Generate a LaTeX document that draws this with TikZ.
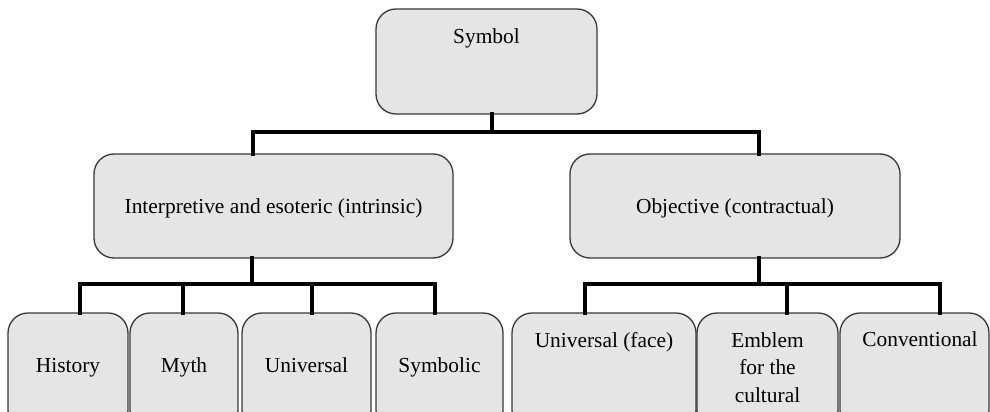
\documentclass[tikz,border=0pt]{standalone}
\usepackage{fontspec}
\setmainfont{Liberation Serif}
\begin{document}
\begin{tikzpicture}[x=1pt,y=-1pt,
  box/.style={draw=black!78, line width=1.3pt, fill=black!10, rounded corners=20pt, rectangle, inner sep=0pt},
  lbl/.style={inner sep=0pt, anchor=base, font=\fontsize{21.4}{27.5}\selectfont},
  conn/.style={line width=4.5pt, line join=miter, line cap=rect}]
\clip (0,0) rectangle (990,412);
\fill[white] (0,0) rectangle (990,412);
% junction coordinates
\coordinate (j1M) at (492,132);
\coordinate (j1L) at (253,132);
\coordinate (j1R) at (759,132);
\coordinate (j2M) at (252,284);
\coordinate (j2L) at (80,284);
\coordinate (j2R) at (435,284);
\coordinate (j3M) at (759,284);
\coordinate (j3L) at (585,284);
\coordinate (j3R) at (940,284);
% boxes
\node[box, minimum width=221pt, minimum height=105pt] (sym) at (486.5,61.5) {};
\node[box, minimum width=359pt, minimum height=104pt] (interp) at (273.5,206) {};
\node[box, minimum width=330pt, minimum height=104pt] (obj) at (735,206) {};
\node[box, minimum width=120pt, minimum height=117pt] (hist) at (68,371.5) {};
\node[box, minimum width=108pt, minimum height=117pt] (myth) at (184,371.5) {};
\node[box, minimum width=129pt, minimum height=117pt] (univ) at (306.5,371.5) {};
\node[box, minimum width=127pt, minimum height=117pt] (symb) at (439.5,371.5) {};
\node[box, minimum width=184pt, minimum height=117pt] (uface) at (604,371.5) {};
\node[box, minimum width=141pt, minimum height=117pt] (embl) at (767.5,371.5) {};
\node[box, minimum width=149pt, minimum height=117pt] (conv) at (914.5,371.5) {};
% connectors
\draw[conn] (sym.south -| j1M) -- (j1M);
\draw[conn] (interp.north -| j1L) -- (j1L) -- (j1R) -- (obj.north -| j1R);
\draw[conn] (interp.south -| j2M) -- (j2M);
\draw[conn] (hist.north -| j2L) -- (j2L) -- (j2R) -- (symb.north -| j2R);
\draw[conn] (myth.north -| 183,284) -- (183,284);
\draw[conn] (univ.north -| 312,284) -- (312,284);
\draw[conn] (obj.south -| j3M) -- (j3M);
\draw[conn] (uface.north -| j3L) -- (j3L) -- (j3R) -- (conv.north -| j3R);
\draw[conn] (embl.north -| 787,284) -- (787,284);
% labels
\node[lbl] (tsym) at (486.5,44) {Symbol};
\node[lbl] (tinterp) at (273.5,213) {Interpretive and esoteric (intrinsic)};
\node[lbl] (tobj) at (735,213) {Objective (contractual)};
\node[lbl] (thist) at (68,372) {History};
\node[lbl] (tmyth) at (184,372) {Myth};
\node[lbl] (tuniv) at (306.5,372) {Universal};
\node[lbl] (tsymb) at (439.5,372) {Symbolic};
\node[lbl] (tuface) at (604,347) {Universal (face)};
\node[lbl, anchor=north, align=center] (tembl) at (767.5,332.3) {Emblem\\for the\\cultural};
\node[lbl] (tconv) at (920,346) {Conventional};
\end{tikzpicture}
\end{document}
